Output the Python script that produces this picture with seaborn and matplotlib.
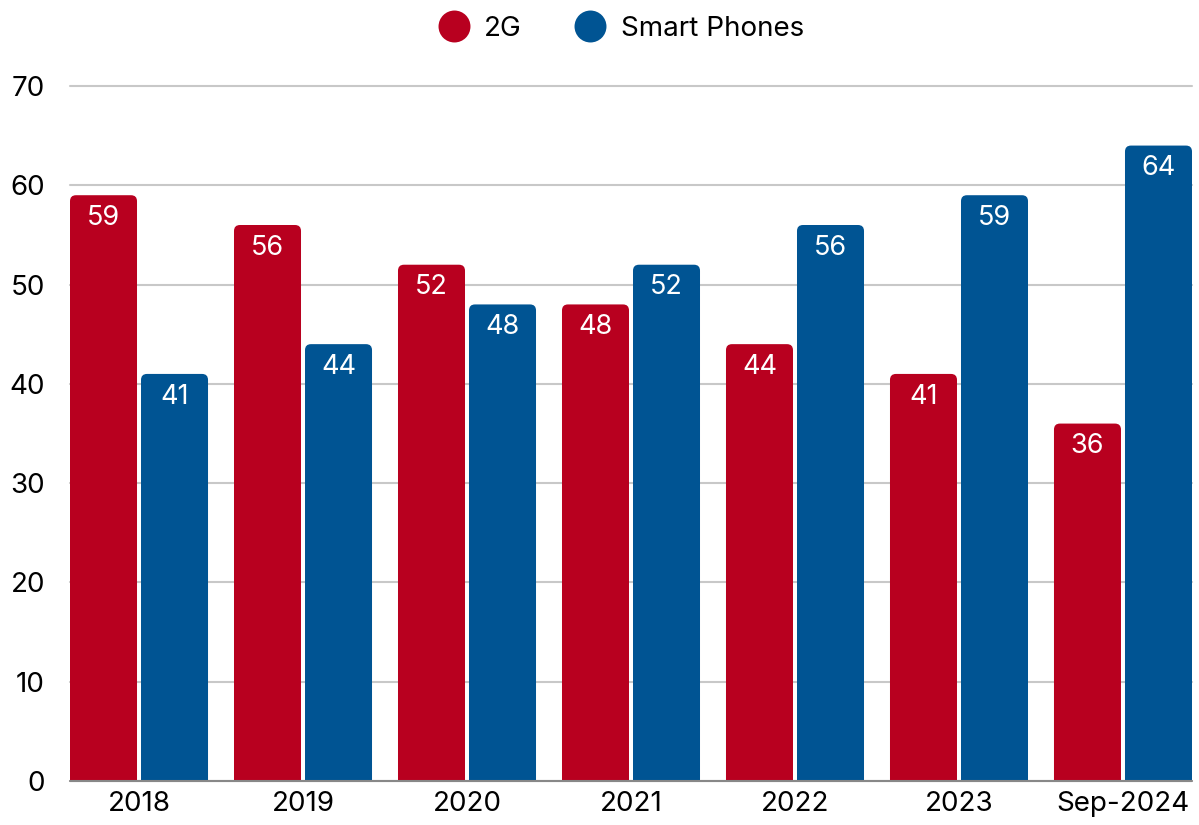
import matplotlib
matplotlib.use("Agg")
import matplotlib.pyplot as plt
from matplotlib.patches import FancyBboxPatch
from matplotlib.lines import Line2D
import seaborn as sns
import pandas as pd

# ---- data ----
categories = ["2018", "2019", "2020", "2021", "2022", "2023", "Sep-2024"]
series_names = ["2G", "Smart Phones"]
values_2g = [59, 56, 52, 48, 44, 41, 36]
values_smart = [41, 44, 48, 52, 56, 59, 64]
y_ticks = [0, 10, 20, 30, 40, 50, 60, 70]

colors = {"2G": "#B8001F", "Smart Phones": "#005493"}

df = pd.DataFrame({
    "year": categories * 2,
    "series": [series_names[0]] * len(categories) + [series_names[1]] * len(categories),
    "value": values_2g + values_smart,
})

sns.set_theme(style="white")
plt.rcParams["font.family"] = ["Inter", "Liberation Sans", "DejaVu Sans"]
plt.rcParams["text.color"] = "black"

FS = 20

fig = plt.figure(figsize=(11.99, 8.25), dpi=100)
ax = fig.add_axes([70 / 1199, 44 / 825, 1122 / 1199, (781 - 86) / 825])

group_w = 0.866
sns.barplot(data=df, x="year", y="value", hue="series", order=categories,
            hue_order=series_names, palette=colors, width=group_w, gap=0.0563,
            saturation=1, ax=ax, legend=False)

bars = list(ax.patches)
left = min(p.get_x() for p in bars)
right = max(p.get_x() + p.get_width() for p in bars)
ax.set_xlim(left, right)
ax.set_ylim(0, 70)

# rounded top corners
r_px = 6.0
bbox = ax.get_window_extent()
x_per_px = (ax.get_xlim()[1] - ax.get_xlim()[0]) / bbox.width
y_per_px = (ax.get_ylim()[1] - ax.get_ylim()[0]) / bbox.height
rx = r_px * x_per_px
ry = r_px * y_per_px
aspect = ry / rx

for p in bars:
    x, w, h = p.get_x(), p.get_width(), p.get_height()
    fc = p.get_facecolor()
    p.remove()
    fb = FancyBboxPatch((x, -5), w, h + 5,
                        boxstyle=f"round,pad=0,rounding_size={rx}",
                        mutation_aspect=aspect, facecolor=fc, edgecolor="none",
                        zorder=2)
    ax.add_patch(fb)
    ax.annotate(f"{h:.0f}", xy=(x + w / 2, h), xytext=(0, -21.3),
                textcoords="offset points", ha="center", va="baseline",
                color="white", fontsize=FS - 0.5, zorder=3)

ax.set_yticks(y_ticks)
ax.yaxis.grid(True, color="#c8c8c8", linewidth=1.5, zorder=0)
for gl in ax.get_ygridlines():
    gl.set_clip_on(False)
ax.set_axisbelow(True)
for s in ["top", "right", "left", "bottom"]:
    ax.spines[s].set_visible(False)
ax.axhline(0, color="#888888", linewidth=1.5, zorder=4, clip_on=False)

ax.set_xlabel("")
ax.set_ylabel("")
ax.tick_params(axis="y", length=0, pad=18, labelsize=FS, labelcolor="black")
ax.tick_params(axis="x", length=0, pad=7.5, labelsize=FS, labelcolor="black")

handles = [Line2D([0], [0], marker="o", linestyle="none", markersize=23,
                  markerfacecolor=colors[n], markeredgecolor="none", label=n)
           for n in series_names]
fig.legend(handles=handles, loc="center", bbox_to_anchor=(0.518, 1 - 29 / 825),
           ncol=2, frameon=False, fontsize=FS, handlelength=1.1,
           handletextpad=0.55, columnspacing=1.9, labelcolor="black")

fig.savefig("out.png", dpi=100)
